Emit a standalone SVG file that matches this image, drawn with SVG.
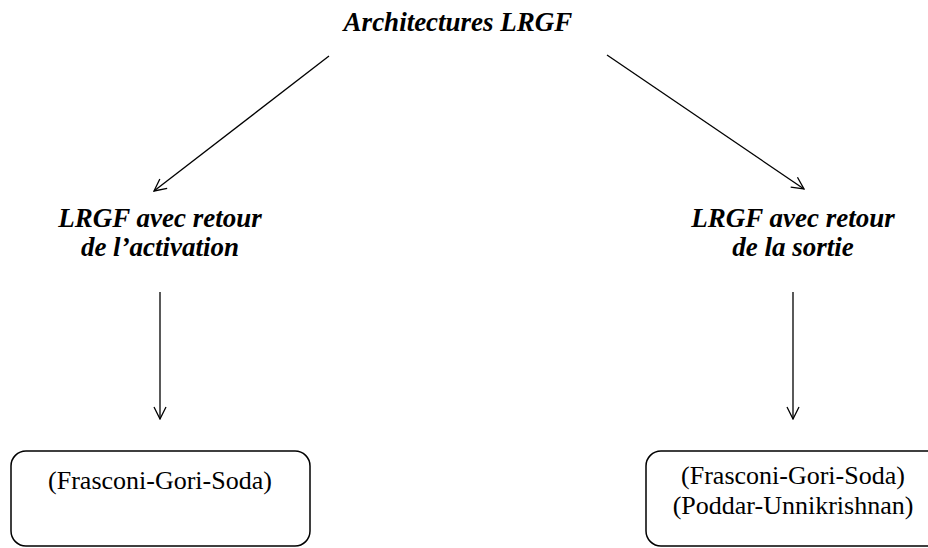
<svg xmlns="http://www.w3.org/2000/svg" width="928" height="548" viewBox="0 0 928 548">
<defs>
<style>
.t{font-family:"Liberation Serif","Times New Roman",serif;font-weight:bold;font-style:italic;font-size:27px;fill:#000;text-anchor:middle}
.b{font-family:"Liberation Serif","Times New Roman",serif;font-size:26px;fill:#000;text-anchor:middle}
.c{stroke:#000;stroke-width:1.3;fill:none}
.box{stroke:#000;stroke-width:1.5;fill:#fff}
</style>
<marker id="ah" viewBox="0 0 14 14" refX="13" refY="7" markerWidth="14" markerHeight="14" markerUnits="userSpaceOnUse" orient="auto">
<path d="M1,1 L13,7 L1,13" fill="none" stroke="#000" stroke-width="1.3"/>
</marker>
</defs>
<rect width="928" height="548" fill="#fff"/>
<g id="connectors">
<line class="c" x1="329" y1="56" x2="154" y2="191" marker-end="url(#ah)"/>
<line class="c" x1="607" y1="55" x2="804" y2="189" marker-end="url(#ah)"/>
<line class="c" x1="160" y1="292" x2="160" y2="419" marker-end="url(#ah)"/>
<line class="c" x1="793" y1="292" x2="793" y2="419" marker-end="url(#ah)"/>
</g>
<g id="root">
<text class="t" x="458" y="31">Architectures LRGF</text>
</g>
<g id="activation">
<text class="t" x="160" y="227">LRGF avec retour</text>
<text class="t" x="160" y="256">de l’activation</text>
</g>
<g id="sortie">
<text class="t" x="793" y="227">LRGF avec retour</text>
<text class="t" x="793" y="256">de la sortie</text>
</g>
<g id="box-left">
<rect class="box" x="11" y="451" width="299" height="95" rx="15" ry="15"/>
<text class="b" x="160" y="489">(Frasconi-Gori-Soda)</text>
</g>
<g id="box-right">
<rect class="box" x="646" y="451" width="300" height="95" rx="15" ry="15"/>
<text class="b" x="793" y="484">(Frasconi-Gori-Soda)</text>
<text class="b" x="793" y="514">(Poddar-Unnikrishnan)</text>
</g>
</svg>
